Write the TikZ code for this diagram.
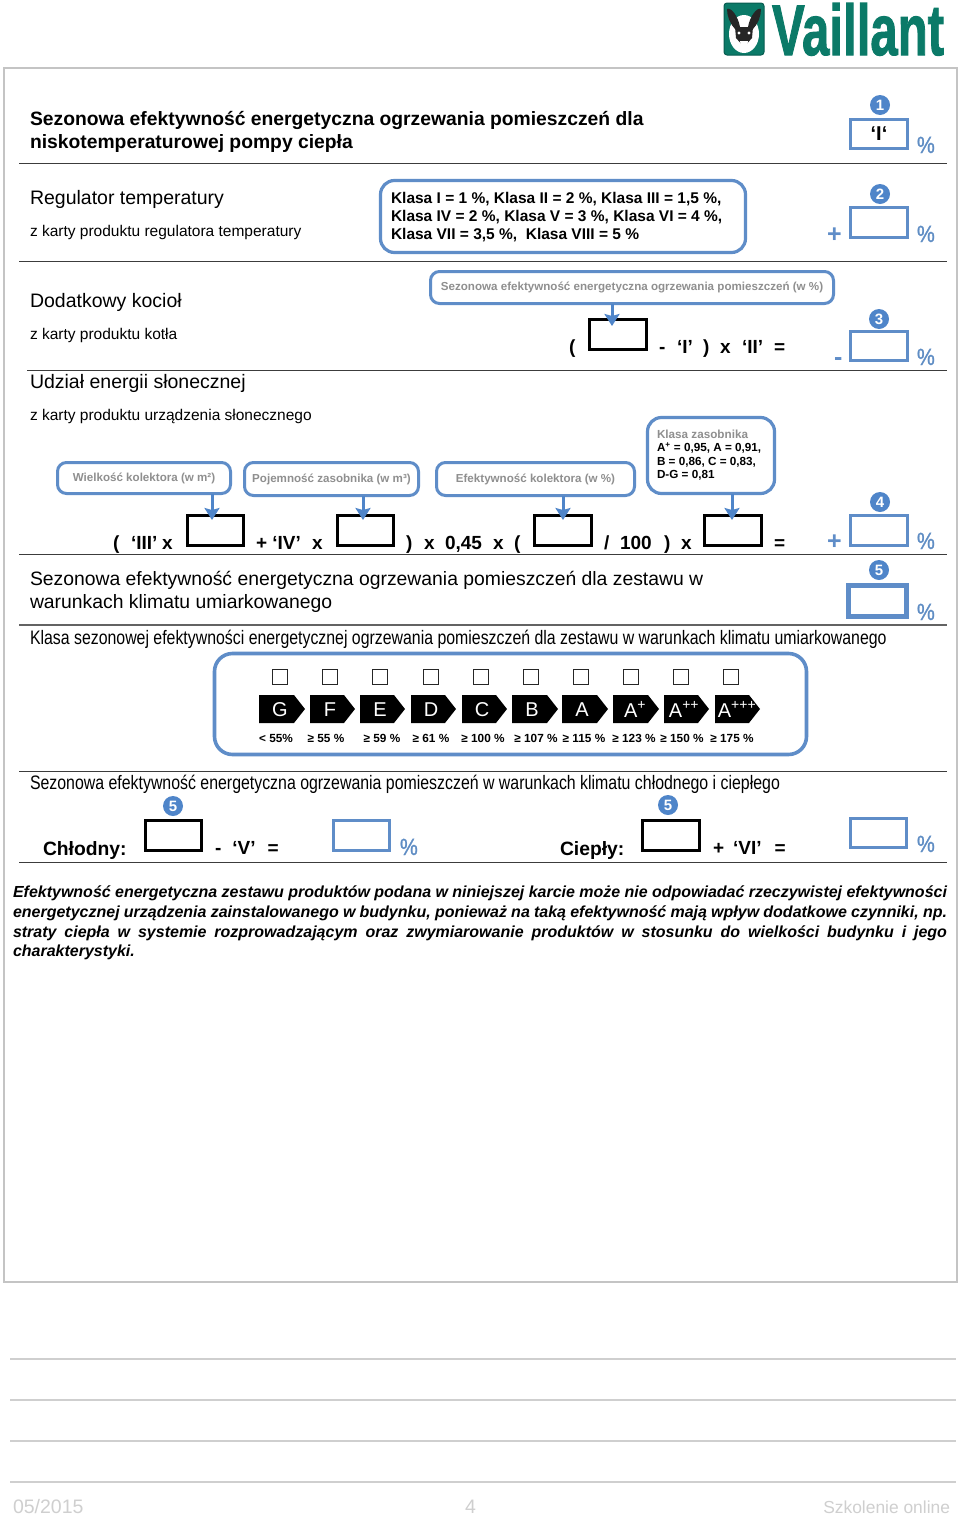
\documentclass[tikz,border=0pt]{standalone}
\usepackage{fontspec}
\usepackage{graphicx}
\setmainfont{Liberation Sans}
\newfontfamily\pctfont[FakeBold=1.2]{Liberation Sans}
\newfontfamily\logofont[FakeBold=1.6,BoldFont={Liberation Sans Bold}]{Liberation Sans Bold}
\definecolor{vblue}{HTML}{4F85C9}
\definecolor{vline}{HTML}{5F8DC8}
\definecolor{vpct}{HTML}{5F8DC4}
\definecolor{vgray}{HTML}{8F8F8F}
\definecolor{vteal}{HTML}{0B7A68}
\definecolor{vdark}{HTML}{075C50}
\definecolor{rulec}{HTML}{3C3C3C}
\definecolor{frameg}{HTML}{C4C4C4}
\definecolor{foot}{HTML}{CFCFCF}
\newcommand{\fsz}[1]{\fontsize{#1}{#1}\selectfont}
\newcommand{\BX}[7]{\node[#1,minimum width={(#5-#3)*1pt-3pt},minimum height={(#6-#4)*1pt-3pt}] (#2) at ({(#3+#5)/2},{(#4+#6)/2}) {#7};}
\newcommand{\EN}[5]{\fill[black] (#2,695) -- ({#3-11},695) -- (#3,709) -- ({#3-11},723) -- (#2,723) -- cycle;
 \node[enlabel] (#1) at (#4,709.5) {#5};}
\newcommand{\PC}{\scalebox{.85}[1]{\pctfont\%}}
\usetikzlibrary{arrows.meta}
\tikzset{
 x=1pt,y=-1pt,
 every node/.style={inner sep=0pt,outer sep=0pt},
 t/.style={anchor=base west},
 h20/.style={t,font=\fsz{19.5}},
 s15/.style={t,font=\fsz{15.5}},
 f/.style={t,font=\fsz{19}\bfseries},
 lab/.style={anchor=base,font=\fsz{11.8}\bfseries},
 call/.style={draw=vline,line width=3pt,rounded corners=9pt,fill=white,font=\fsz{11.6}\bfseries,text=vgray},
 callb/.style={draw=vline,line width=3.2pt,rounded corners=14pt,fill=white},
 bluebox/.style={draw=vline,line width=3pt},
 blackbox/.style={draw=black,line width=3pt},
 check/.style={draw=black!85,line width=1.6pt},
 num/.style={circle,fill=vblue,text=white,minimum size=20pt,font=\fsz{15}\bfseries},
 pct/.style={t,font=\fsz{23.5},text=vpct},
 sign/.style={t,font=\fsz{25}\bfseries,text=vline},
 arr/.style={draw=vblue,line width=3pt,-{Stealth[length=12pt,width=15pt,inset=2pt]}},
 rul/.style={draw=rulec,line width=1pt},
 enlabel/.style={text=white,font=\fsz{20}},
 foott/.style={t,font=\fsz{19.5},text=foot},
}
\begin{document}
\begin{tikzpicture}
\useasboundingbox (0,0) rectangle (960,1515);
\fill[white] (0,0) rectangle (960,1515);
% logo
\draw[vdark,line width=1pt,rounded corners=3pt,fill=vteal] (724,3) rectangle (764,55);
\fill[white] (744,34) ellipse [x radius=15, y radius=19];
\fill[black!85] (727,9) .. controls (731,7) and (738,16) .. (740,27) -- (735,29) .. controls (730,24) and (727,16) .. (727,9) -- cycle;
\fill[black!85] (761,9) .. controls (757,7) and (750,16) .. (748,27) -- (753,29) .. controls (758,24) and (761,16) .. (761,9) -- cycle;
\fill[black!85] (735,27) -- (753,27) -- (752,38) -- (744,47) -- (736,38) -- cycle;
\fill[white] (740,41) -- (748,41) -- (747,47) -- (744,50) -- (741,47) -- cycle;
\fill[white] (739,33) circle (1.6) (749,33) circle (1.6);
\node[anchor=north west,text=vteal] (logo) at (772,3) {\resizebox{172pt}{52pt}{\logofont Vaillant}};
% frame
\draw[frameg,line width=2pt] (4,68) rectangle (957,1282);
% head
\node[anchor=west,align=left,font=\fontsize{19.3}{22.3}\selectfont\bfseries] (title) at (30,132) {Sezonowa efektywność energetyczna ogrzewania pomieszczeń dla\\niskotemperaturowej pompy ciepła};
\coordinate (r1a) at (19,163);\coordinate (r1b) at (947,163);
\draw[rul] (r1a) -- (r1b);
\BX{bluebox}{b1}{849}{118}{909}{150}{\fsz{20}\bfseries ‘I‘}
\node[num] (n1) at (880,105) {1};
\node[pct] (p1) at (917,153) {\PC};
% row 2
\node[h20] (reg) at (30,204) {Regulator temperatury};
\node[s15] (regs) at (30,236) {z karty produktu regulatora temperatury};
\BX{callb}{klasy}{379}{179}{747}{254}{}
\node[anchor=west,align=left,font=\fontsize{15.5}{18}\selectfont\bfseries] (klasyt) at (391,217) {Klasa I = 1 \%, Klasa II = 2 \%, Klasa III = 1,5 \%,\\Klasa IV = 2 \%, Klasa V = 3 \%, Klasa VI = 4 \%,\\Klasa VII = 3,5 \%,\ \ Klasa VIII = 5 \%};
\node[sign] (s2) at (827,242) {+};
\BX{bluebox}{b2}{849}{206}{909}{239}{}
\node[num] (n2) at (880,194) {2};
\node[pct] (p2) at (917,242) {\PC};
\coordinate (r2a) at (19,261);\coordinate (r2b) at (947,261);
\draw[rul] (r2a) -- (r2b);
% row 3
\node[h20] (koc) at (30,307) {Dodatkowy kocioł};
\node[s15] (kocs) at (30,339) {z karty produktu kotła};
\node[h20] (udz) at (30,388) {Udział energii słonecznej};
\coordinate (r3a) at (27,370);\coordinate (r3b) at (947,370);
\draw[rul] (r3a) -- (r3b);
\node[s15] (udzs) at (30,420) {z karty produktu urządzenia słonecznego};
\BX{call}{c0}{429}{270}{835}{305}{Sezonowa efektywność energetyczna ogrzewania pomieszczeń (w \%)}
\BX{blackbox}{k0}{588}{318}{648}{351}{}
\coordinate (t0) at (612,326);
\draw[arr] (c0.south -| t0) -- (t0);
\node[f] (e1) at (569,353) {(};
\node[f] (e2) at (659,353) {-};
\node[f] (e3) at (677,353) {‘I’};
\node[f] (e4) at (703,353) {)};
\node[f] (e5) at (720,353) {x};
\node[f] (e6) at (742,353) {‘II’};
\node[f] (e7) at (774,353) {=};
\node[sign] (s3) at (834,365) {-};
\BX{bluebox}{b3}{849}{330}{909}{362}{}
\node[num] (n3) at (879,319) {3};
\node[pct] (p3) at (917,365) {\PC};
% callouts
\BX{call}{c1}{56}{461}{232}{495}{Wielkość kolektora (w m²)}
\BX{call}{c2}{243}{461}{420}{497}{Pojemność zasobnika (w m³)}
\BX{call}{c3}{435}{461}{636}{497}{Efektywność kolektora (w \%)}
\BX{callb}{c4}{646}{416}{776}{495}{}
\node[anchor=north west,align=left,font=\fontsize{11.7}{13.3}\selectfont\bfseries] (c4t) at (657,430) {\textcolor{vgray}{Klasa zasobnika}\\A\textsuperscript{+} = 0,95, A = 0,91,\\B = 0,86, C = 0,83,\\D-G = 0,81};
\BX{blackbox}{k1}{186}{514}{245}{547}{}
\BX{blackbox}{k2}{336}{514}{395}{547}{}
\BX{blackbox}{k3}{533}{514}{593}{547}{}
\BX{blackbox}{k4}{703}{514}{763}{547}{}
\coordinate (t1) at (212,520);\coordinate (t2) at (363,520);\coordinate (t3) at (563,520);\coordinate (t4) at (732,520);
\draw[arr] (c1.south -| t1) -- (t1);
\draw[arr] (c2.south -| t2) -- (t2);
\draw[arr] (c3.south -| t3) -- (t3);
\draw[arr] (c4.south -| t4) -- (t4);
\node[f] (g1) at (113,549) {(};
\node[f] (g2) at (131,549) {‘III’};
\node[f] (g3) at (162,549) {x};
\node[f] (g4) at (256,549) {+ ‘IV’};
\node[f] (g5) at (312,549) {x};
\node[f] (g6) at (406,549) {)};
\node[f] (g7) at (424,549) {x};
\node[f] (g8) at (445,549) {0,45};
\node[f] (g9) at (493,549) {x};
\node[f] (g10) at (514,549) {(};
\node[f] (g11) at (604,549) {/};
\node[f] (g12) at (620,549) {100};
\node[f] (g13) at (664,549) {)};
\node[f] (g14) at (681,549) {x};
\node[f] (g15) at (774,549) {=};
\node[sign] (s4) at (827,549) {+};
\BX{bluebox}{b4}{849}{514}{909}{547}{}
\node[num] (n4) at (880,502) {4};
\node[pct] (p4) at (917,549) {\PC};
\coordinate (r4a) at (19,554);\coordinate (r4b) at (947,554);
\draw[rul] (r4a) -- (r4b);
% seasonal
\node[anchor=west,align=left,font=\fontsize{19.35}{22.5}\selectfont] (sez) at (30,592) {Sezonowa efektywność energetyczna ogrzewania pomieszczeń dla zestawu w\\warunkach klimatu umiarkowanego};
\node[num] (n5) at (879,570) {5};
\BX{draw=vline,line width=4.5pt}{b5}{847}{584}{908}{618}{}
\node[pct] (p5) at (917,620) {\PC};
\coordinate (r5a) at (19,625);\coordinate (r5b) at (947,625);
\draw[draw=rulec!80,line width=1.8pt] (r5a) -- (r5b);
\node[t,font=\fsz{19.5}] (kl) at (30,644) {\scalebox{.814}[1]{Klasa sezonowej efektywności energetycznej ogrzewania pomieszczeń dla zestawu w warunkach klimatu umiarkowanego}};
% class panel
\BX{draw=vline,line width=3.6pt,rounded corners=18pt}{panel}{213}{652}{808}{756}{}
\foreach \i/\x in {1/280,2/330,3/380,4/431,5/481,6/531,7/581,8/631,9/681,10/731}{
 \node[check,minimum size=15pt] (ch\i) at (\x,677) {};
}
\EN{eG}{259}{305}{280}{G}
\EN{eF}{310}{355}{330}{F}
\EN{eE}{360}{405}{380}{E}
\EN{eD}{411}{456}{431}{D}
\EN{eC}{462}{507}{482}{C}
\EN{eB}{512}{558}{532}{B}
\EN{eA}{562}{608}{582}{A}
\EN{eAp}{613}{659}{635}{A\textsuperscript{+}}
\EN{eApp}{664}{709}{684}{A\textsuperscript{++}}
\EN{eAppp}{715}{760}{737}{A\textsuperscript{+++}}
\node[lab] (v1) at (276,742) {< 55\%};
\node[lab] (v2) at (326,742) {≥ 55 \%};
\node[lab] (v3) at (382,742) {≥ 59 \%};
\node[lab] (v4) at (431,742) {≥ 61 \%};
\node[lab] (v5) at (483,742) {≥ 100 \%};
\node[lab] (v6) at (536,742) {≥ 107 \%};
\node[lab] (v7) at (584,742) {≥ 115 \%};
\node[lab] (v8) at (634,742) {≥ 123 \%};
\node[lab] (v9) at (682,742) {≥ 150 \%};
\node[lab] (v10) at (732,742) {≥ 175 \%};
\coordinate (r6a) at (19,771);\coordinate (r6b) at (947,771);
\draw[draw=rulec,line width=.8pt] (r6a) -- (r6b);
\node[t,font=\fsz{19.5}] (chh) at (30,789) {\scalebox{.815}[1]{Sezonowa efektywność energetyczna ogrzewania pomieszczeń w warunkach klimatu chłodnego i ciepłego}};
% cold warm
\node[num] (n6) at (173,806) {5};
\node[num] (n7) at (668,805) {5};
\node[t,font=\fsz{19.3}\bfseries] (chl) at (43,855) {Chłodny:};
\BX{blackbox}{k5}{144}{819}{203}{852}{}
\node[f] (h1) at (215,854) {-\hspace{11pt}‘V’\hspace{12pt}=};
\BX{bluebox}{b6}{332}{819}{391}{852}{}
\node[pct] (p6) at (400,855) {\PC};
\node[t,font=\fsz{19.3}\bfseries] (cie) at (560,855) {Ciepły:};
\BX{blackbox}{k6}{641}{819}{701}{852}{}
\node[f] (h2) at (713,854) {+\hspace{9pt}‘VI’\hspace{13pt}=};
\BX{bluebox}{b7}{849}{817}{908}{849}{}
\node[pct] (p7) at (917,852) {\PC};
\coordinate (r7a) at (19,862);\coordinate (r7b) at (947,862);
\draw[rul] (r7a) -- (r7b);
% paragraph
\node[anchor=north west,text width=934pt,align=justify,font=\fontsize{16}{19.7}\selectfont\bfseries\itshape] (par) at (13,886) {Efektywność energetyczna zestawu produktów podana w niniejszej karcie może nie odpowiadać rzeczywistej efektywności\linebreak energetycznej urządzenia zainstalowanego w budynku, ponieważ na taką efektywność mają wpływ dodatkowe czynniki, np.\linebreak straty ciepła w systemie rozprowadzającym oraz zwymiarowanie produktów w stosunku do wielkości budynku i jego\linebreak charakterystyki.};
% footer
\foreach \i/\y in {1/1359,2/1400,3/1441,4/1482}{
 \coordinate (fa\i) at (10,\y);\coordinate (fb\i) at (956,\y);
 \draw[foot,line width=2pt] (fa\i) -- (fb\i);
}
\node[foott] (f1) at (13,1513) {05/2015};
\node[foott] (f2) at (465,1513) {4};
\node[anchor=base east,font=\fsz{17.4},text=foot] (f3) at (950,1513) {Szkolenie online};
\end{tikzpicture}
\end{document}
